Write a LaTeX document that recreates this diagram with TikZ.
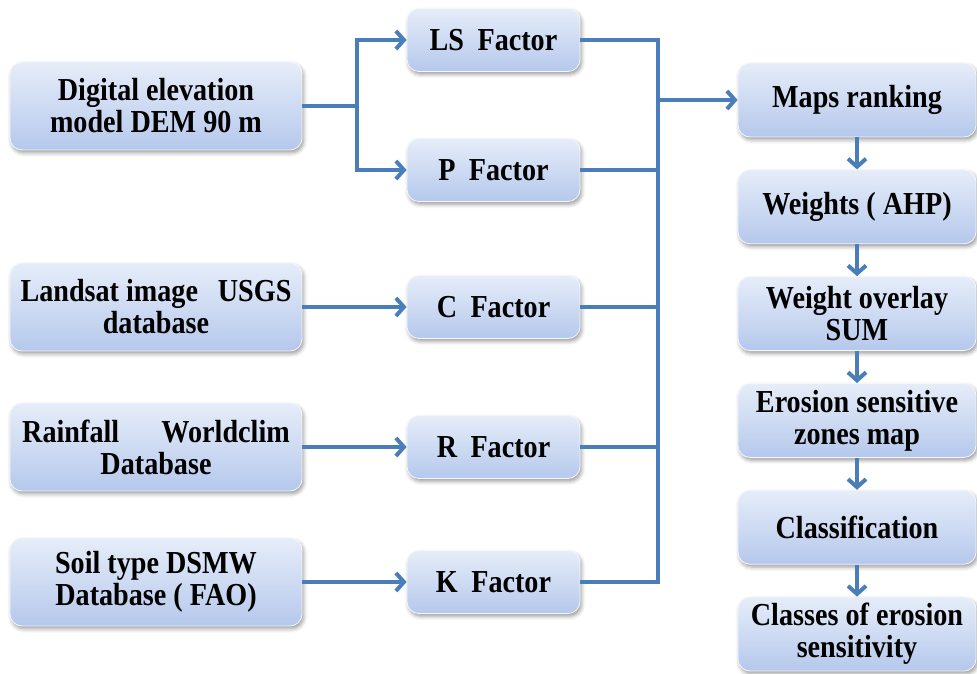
\documentclass[tikz,border=0pt]{standalone}
\usepackage{fontspec}
\setmainfont{Liberation Serif}[FakeStretch=0.88]
\usepackage{tikz}
\usetikzlibrary{positioning,arrows.meta,shadows.blur}
\usepackage{xcolor}
\definecolor{flowline}{HTML}{4A7EBB}
\definecolor{boxtop}{HTML}{E6EDF9}
\definecolor{boxbot}{HTML}{B5C8EC}

\tikzset{
  box/.style={rounded corners=6pt,top color=boxtop,bottom color=boxbot,
    draw=white!85!boxbot,line width=0.4pt,align=center,inner sep=0pt,
    font=\fontsize{16}{16}\selectfont\bfseries,
    blur shadow={shadow xshift=0.8pt,shadow yshift=-1.4pt,shadow blur radius=2pt,shadow opacity=40}},
  srcbox/.style={box,minimum width=146pt,minimum height=44pt},
  facbox/.style={box,minimum width=86.5pt,minimum height=31.5pt},
  stepbox/.style={box,minimum width=119pt,minimum height=37pt},
  line/.style={draw=flowline,line width=2pt},
}

\begin{document}
\begin{tikzpicture}[x=0.5pt,y=-0.5pt,>={Straight Barb[length=4pt,width=9pt]},node distance=16pt]
\useasboundingbox (0,0) rectangle (977,673);
% inputs
\node[srcbox] (dem) at (156,106) {Digital elevation\\model DEM 90 m};
\node[srcbox] (landsat) at (156,307) {Landsat image\hspace{0.4em} USGS\\database};
\node[srcbox] (rain) at (156,447) {Rainfall\hspace{1.1em} Worldclim\\Database};
\node[srcbox] (soil) at (156,582) {Soil type DSMW\\Database ( FAO)};
% factors
\node[facbox] (ls) at (493.5,40) {LS\hspace{0.2em} Factor};
\node[facbox] (pf) at (493.5,170) {P\hspace{0.2em} Factor};
\node[facbox] (cf) at (493.5,307) {C\hspace{0.2em} Factor};
\node[facbox] (rf) at (493.5,447) {R\hspace{0.2em} Factor};
\node[facbox] (kf) at (493.5,582) {K\hspace{0.2em} Factor};
% processing chain
\node[stepbox] (maps) at (857,100) {Maps ranking};
\node[stepbox] (weights) [below=of maps] {Weights ( AHP)};
\node[stepbox] (overlay) [below=of weights] {Weight overlay\\SUM};
\node[stepbox] (erosion) [below=of overlay] {Erosion sensitive\\zones map};
\node[stepbox] (classif) [below=of erosion] {Classification};
\node[stepbox] (classes) [below=of classif] {Classes of erosion\\sensitivity};

\coordinate (split) at (357,106);
\coordinate (bus) at (658,100);
\draw[line] (dem) -- (split);
\draw[line,->] (split) |- (ls);
\draw[line,->] (split) |- (pf);
\draw[line,->] (landsat) -- (cf);
\draw[line,->] (rain) -- (rf);
\draw[line,->] (soil) -- (kf);
\draw[line] (ls) -| (bus) |- (kf);
\foreach \f in {pf,cf,rf}
  \draw[line] (\f.east) -- (\f.east -| bus);
\draw[line,->] (bus) -- (maps);
\foreach \a/\b in {maps/weights,weights/overlay,overlay/erosion,erosion/classif,classif/classes}
  \draw[line,->] (\a) -- (\b);
\end{tikzpicture}
\end{document}
